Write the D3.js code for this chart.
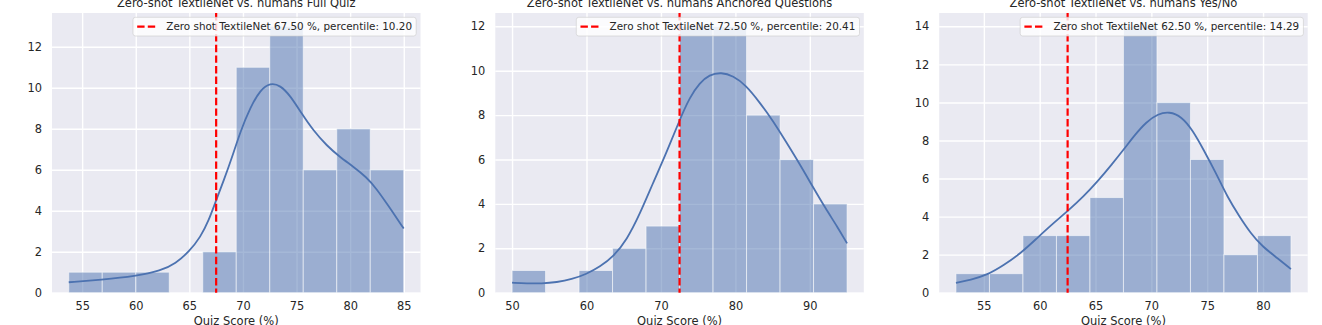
<!DOCTYPE html>
<html>
<head>
<meta charset="utf-8">
<script src="https://cdn.jsdelivr.net/npm/d3@7"></script>
<style>
  body { margin: 0; background: #fff; }
  svg { display: block; font-family: "DejaVu Sans", sans-serif; }
</style>
</head>
<body>
<div id="chart"></div>
<script>
// ---- data ----
var titles = [
    "Zero-shot TextileNet vs. humans Full Quiz",
    "Zero-shot TextileNet vs. humans Anchored Questions",
    "Zero-shot TextileNet vs. humans Yes/No"
];
var modelScores = [67.5, 72.5, 62.5];
var percentiles = ["10.20", "20.41", "14.29"];

var edgesFull = [53.75, 56.875, 60, 63.125, 66.25, 69.375, 72.5, 75.625, 78.75, 81.875, 85];
var countsFull = [1, 1, 1, 0, 2, 11, 13, 6, 8, 6];
var kdeXFull = [53.75, 56.76, 60.0, 62.34, 63.73, 64.97, 66.05, 66.82, 67.44, 68.21, 68.99, 69.76,
                70.69, 71.62, 72.55, 73.48, 74.41, 75.49, 76.57, 77.81, 79.05, 80.28, 81.52, 82.45, 83.53, 85.0];
var kdeYFull = [0.51, 0.63, 0.80, 1.07, 1.43, 2.0, 2.72, 3.54, 4.43, 5.48, 6.61, 7.87,
                9.05, 9.90, 10.24, 10.12, 9.62, 8.73, 7.91, 7.18, 6.62, 6.16, 5.64, 5.08, 4.27, 3.13];
var xTicksFull = [55, 60, 65, 70, 75, 80, 85];
var yTicksFull = [0, 2, 4, 6, 8, 10, 12];

var edgesAnch = [50, 54.5, 59, 63.5, 68, 72.5, 77, 81.5, 86, 90.5, 95];
var countsAnch = [1, 0, 1, 2, 3, 12, 12, 8, 6, 4];
var kdeXAnch = [50.0, 52.0, 54.0, 56.0, 58.0, 60.0, 61.8, 63.6, 65.4, 67.2, 68.9, 70.7, 72.5,
                73.9, 75.2, 76.5, 78.1, 79.7, 81.4, 83.2, 85.0, 86.8, 88.6, 90.4, 92.1, 93.7, 95.0];
var kdeYAnch = [0.45, 0.42, 0.41, 0.47, 0.60, 0.84, 1.17, 1.62, 2.37, 3.57, 4.92, 6.27, 7.78,
                8.82, 9.45, 9.82, 9.93, 9.77, 9.35, 8.60, 7.77, 6.80, 5.82, 4.77, 3.80, 2.97, 2.22];
var xTicksAnch = [50, 60, 70, 80, 90];
var yTicksAnch = [0, 2, 4, 6, 8, 10, 12];

var edgesYes = [52.5, 55.5, 58.5, 61.5, 64.5, 67.5, 70.5, 73.5, 76.5, 79.5, 82.5];
var countsYes = [1, 1, 3, 3, 5, 14, 10, 7, 2, 3];
var kdeXYes = [52.5, 53.8, 55.3, 56.8, 58.3, 59.75, 61.2, 62.6, 63.9, 65.2, 66.4, 67.6,
               68.5, 69.55, 70.6, 71.6, 72.7, 73.7, 74.7, 75.8, 76.8, 77.9, 78.9, 79.9, 81.3, 82.5];
var kdeYYes = [0.52, 0.67, 0.93, 1.45, 2.07, 2.86, 3.64, 4.34, 5.04, 5.86, 6.70, 7.58,
               8.28, 8.98, 9.40, 9.52, 9.26, 8.54, 7.49, 6.27, 5.04, 3.99, 3.12, 2.45, 1.81, 1.24];
var xTicksYes = [55, 60, 65, 70, 75, 80];
var yTicksYes = [0, 2, 4, 6, 8, 10, 12, 14];

var panels = [
    {edges: edgesFull, counts: countsFull, kx: kdeXFull, ky: kdeYFull, xt: xTicksFull, yt: yTicksFull},
    {edges: edgesAnch, counts: countsAnch, kx: kdeXAnch, ky: kdeYAnch, xt: xTicksAnch, yt: yTicksAnch},
    {edges: edgesYes, counts: countsYes, kx: kdeXYes, ky: kdeYYes, xt: xTicksYes, yt: yTicksYes}
];

// ---- layout ----
var width = 1322, height = 325;
var plotLefts = [52, 495.3, 939.2],
    plotW = 368.5,
    plotTop = 13,
    plotH = 279.7;
var blue = "#4C72B0",
    bg = "#EAEAF2",
    ink = "#262626";

var svg = d3.select("#chart").append("svg")
    .attr("width", width)
    .attr("height", height);

panels.forEach(function (p, k) {
    var lo = p.edges[0], hi = p.edges[p.edges.length - 1];
    var pad = (hi - lo) * 0.05;
    var x = d3.scaleLinear().domain([lo - pad, hi + pad]).range([0, plotW]);
    var y = d3.scaleLinear().domain([0, d3.max(p.counts) * 1.05]).range([plotH, 0]);

    var g = svg.append("g")
        .attr("transform", "translate(" + plotLefts[k] + "," + plotTop + ")");

    g.append("rect")
        .attr("width", plotW)
        .attr("height", plotH)
        .attr("fill", bg);

    // grid + tick labels
    var xAxis = g.append("g")
        .attr("transform", "translate(0," + plotH + ")")
        .call(d3.axisBottom(x).tickValues(p.xt).tickSize(-plotH).tickPadding(9.5).tickFormat(d3.format("d")));
    var yAxis = g.append("g")
        .call(d3.axisLeft(y).tickValues(p.yt).tickSize(-plotW).tickPadding(10).tickFormat(d3.format("d")));

    [xAxis, yAxis].forEach(function (a) {
        a.select(".domain").remove();
        a.selectAll(".tick line").attr("stroke", "#fff").attr("stroke-width", 1.4);
        a.selectAll(".tick text")
            .attr("fill", ink)
            .style("font-size", "11.4px")
            .style("font-family", "DejaVu Sans");
    });

    // histogram bars
    var bins = p.counts.map(function (c, i) {
        return {x0: p.edges[i], x1: p.edges[i + 1], n: c};
    });
    g.selectAll(".bar")
        .data(bins.filter(function (d) { return d.n > 0; }))
        .enter().append("rect")
        .attr("class", "bar")
        .attr("x", function (d) { return x(d.x0); })
        .attr("y", function (d) { return y(d.n); })
        .attr("width", function (d) { return x(d.x1) - x(d.x0); })
        .attr("height", function (d) { return plotH - y(d.n); })
        .attr("fill", blue)
        .attr("fill-opacity", 0.5)
        .attr("stroke", "#fff")
        .attr("stroke-opacity", 0.55)
        .attr("stroke-width", 1);

    // kde curve
    var line = d3.line()
        .x(function (d) { return x(d[0]); })
        .y(function (d) { return y(d[1]); })
        .curve(d3.curveBasis);
    g.append("path")
        .datum(d3.zip(p.kx, p.ky))
        .attr("d", line)
        .attr("fill", "none")
        .attr("stroke", blue)
        .attr("stroke-width", 1.8);

    // model score line
    g.append("line")
        .attr("x1", x(modelScores[k]))
        .attr("x2", x(modelScores[k]))
        .attr("y1", 0)
        .attr("y2", plotH)
        .attr("stroke", "red")
        .attr("stroke-width", 2.2)
        .attr("stroke-dasharray", "7.4,3.2");

    // legend
    var leg = g.append("g");
    var legBox = leg.append("rect")
        .attr("rx", 2.5)
        .attr("fill", "#fff")
        .attr("fill-opacity", 0.8)
        .attr("stroke", "#ccc")
        .attr("stroke-opacity", 0.8)
        .attr("stroke-width", 0.8);
    var legText = leg.append("text")
        .attr("fill", ink)
        .style("font-size", "10.4px")
        .text("Zero shot TextileNet " + modelScores[k].toFixed(2) + " %, percentile: " + percentiles[k]);
    var tw = legText.node().getComputedTextLength();
    var boxW = 4.2 + 20.8 + 8.3 + tw + 4.2,
        boxH = 18.7,
        boxX = plotW - 4.3 - boxW,
        boxY = 4.3;
    legBox.attr("x", boxX).attr("y", boxY).attr("width", boxW).attr("height", boxH);
    leg.append("line")
        .attr("x1", boxX + 4.2)
        .attr("x2", boxX + 25)
        .attr("y1", boxY + boxH / 2)
        .attr("y2", boxY + boxH / 2)
        .attr("stroke", "red")
        .attr("stroke-width", 2.2)
        .attr("stroke-dasharray", "7.4,3.2");
    legText.attr("x", boxX + 33.3).attr("y", boxY + boxH / 2 + 3.7);

    // title + x label (cut by the frame edge, as in the reference)
    g.append("text")
        .attr("x", plotW / 2)
        .attr("y", -6)
        .attr("text-anchor", "middle")
        .attr("fill", ink)
        .style("font-size", "11.5px")
        .text(titles[k]);
    g.append("text")
        .attr("x", plotW / 2)
        .attr("y", plotH + 32)
        .attr("text-anchor", "middle")
        .attr("fill", ink)
        .style("font-size", "11.5px")
        .text("Quiz Score (%)");
});
</script>
</body>
</html>
